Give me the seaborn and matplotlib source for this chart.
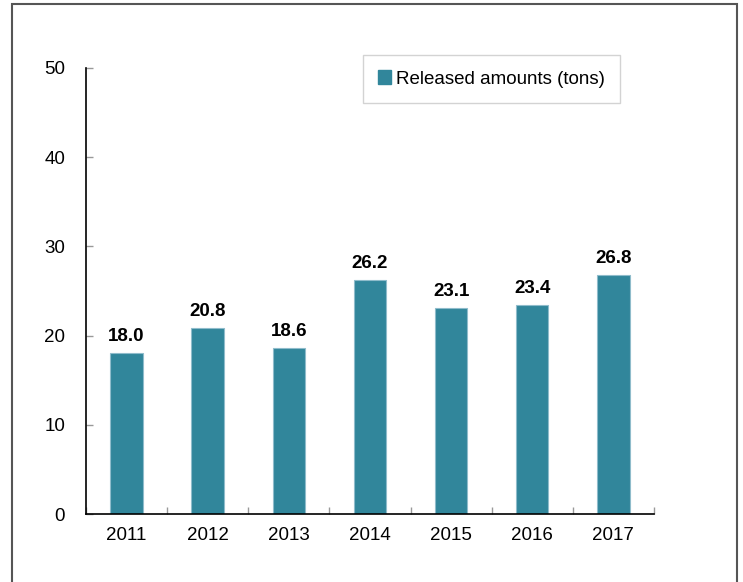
import matplotlib
matplotlib.use("Agg")
import matplotlib.pyplot as plt
import seaborn as sns
import pandas as pd
from matplotlib.patches import Patch, Rectangle

# Data
years = ['2011', '2012', '2013', '2014', '2015', '2016', '2017']
released = [18.0, 20.8, 18.6, 26.2, 23.1, 23.4, 26.8]
series_name = "Released amounts (tons)"

df = pd.DataFrame({'year': years, 'value': released})

sns.set_style("white")
plt.rcParams['font.family'] = ['Liberation Sans', 'DejaVu Sans']
plt.rcParams['text.color'] = 'black'
plt.rcParams['xtick.color'] = 'black'
plt.rcParams['ytick.color'] = 'black'

bar_color = '#31869B'

fig = plt.figure(figsize=(7.43, 5.82), dpi=100)
ax = fig.add_axes([0.1157, 0.1168, 0.7645, 0.7664])

sns.barplot(data=df, x='year', y='value', color=bar_color, width=0.4,
            saturation=1, edgecolor='#8fbccb', linewidth=0.8, ax=ax)

ax.bar_label(ax.containers[0], fmt='%.1f', padding=6, color='black',
             fontsize=13.5, fontweight='bold')

ax.set_ylim(0, 50)
ax.set_yticks(range(0, 51, 10))
ax.set_xlim(-0.5, 6.5)
ax.set_xlabel("")
ax.set_ylabel("")

# spines
for s in ['top', 'right']:
    ax.spines[s].set_visible(False)
for s in ['left', 'bottom']:
    ax.spines[s].set_color('black')
    ax.spines[s].set_linewidth(1.2)

ax.tick_params(axis='y', left=True, direction='in', length=5, color='#999999',
               labelcolor='black', width=1, labelsize=13.5, pad=15)
ax.tick_params(axis='x', which='major', length=0, labelsize=13.5,
               labelcolor='black', pad=9)
ax.set_xticks([i - 0.5 for i in range(len(years) + 1)], minor=True)
ax.tick_params(axis='x', which='minor', bottom=True, direction='in', length=5,
               color='#999999', width=1)

# legend
handle = Patch(facecolor=bar_color, edgecolor=bar_color)
leg = ax.legend([handle], [series_name], loc='center',
                bbox_to_anchor=(0.6615, 0.8643), bbox_transform=fig.transFigure,
                fontsize=13.5, frameon=True, fancybox=False,
                handlelength=0.7, handleheight=0.7, handletextpad=0.3,
                borderpad=0.8, borderaxespad=0)
leg.get_frame().set_edgecolor('#c8c8c8')
leg.get_frame().set_linewidth(1)
for t in leg.get_texts():
    t.set_color('black')

# outer frame around the chart
fig.patches.append(Rectangle((12 / 743, -0.02), 725 / 743, 1 - 4 / 582 + 0.02,
                             transform=fig.transFigure, fill=False,
                             edgecolor='#555555', linewidth=1.5))

fig.savefig("out.png", dpi=100)
